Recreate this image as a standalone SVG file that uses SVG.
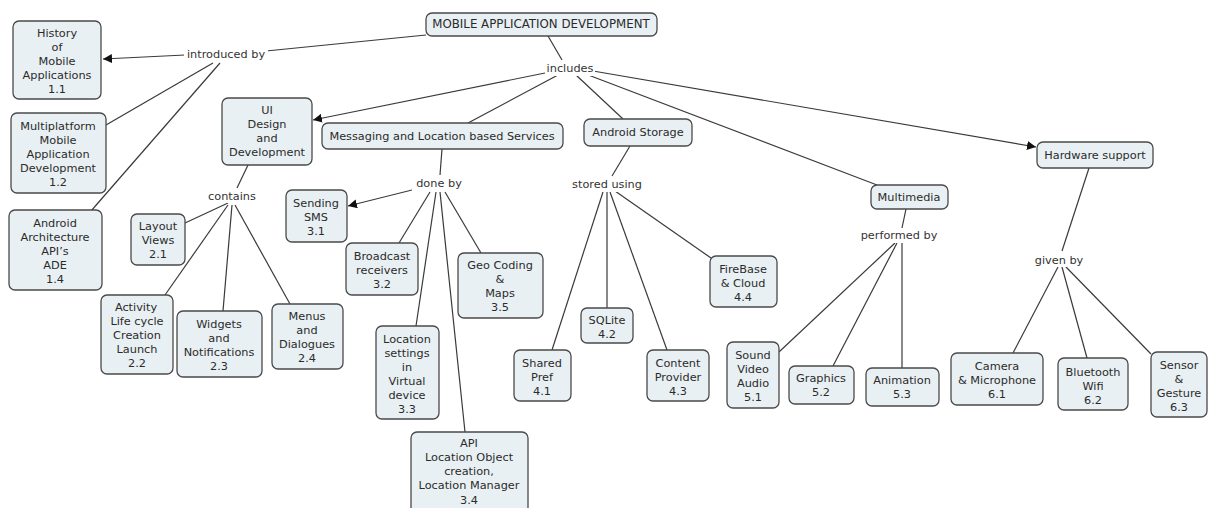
<svg xmlns="http://www.w3.org/2000/svg" width="1208" height="508" viewBox="0 0 1208 508">
<style>
.n rect{fill:#e9f0f3;stroke:#4a4a4a;stroke-width:1.3}
text{font-family:"DejaVu Sans",Verdana,sans-serif;font-size:11.3px;fill:#2b2b2b;text-anchor:middle}
.l text{fill:#333}
.c line{stroke:#3a3a3a;stroke-width:1.2}
</style>
<defs>
<marker id="ah" viewBox="0 0 10 10" refX="10" refY="5" markerWidth="9" markerHeight="9" markerUnits="userSpaceOnUse" orient="auto"><path d="M0,0L10,5L0,10z" fill="#111"/></marker>
</defs>
<rect width="1208" height="508" fill="#fff"/>
<g class="c">
<line x1="426" y1="35" x2="266" y2="51"/>
<line x1="185" y1="55" x2="103" y2="59" marker-end="url(#ah)"/>
<line x1="213" y1="63" x2="106" y2="125"/>
<line x1="220" y1="63" x2="91" y2="211"/>
<line x1="548" y1="36" x2="562" y2="60"/>
<line x1="545" y1="73" x2="313" y2="120" marker-end="url(#ah)"/>
<line x1="558" y1="75" x2="468" y2="123"/>
<line x1="576" y1="75" x2="623" y2="119"/>
<line x1="583" y1="73" x2="877" y2="185"/>
<line x1="593" y1="71" x2="1036" y2="147" marker-end="url(#ah)"/>
<line x1="248" y1="165" x2="237" y2="188"/>
<line x1="228" y1="203" x2="185" y2="223"/>
<line x1="228" y1="205" x2="165" y2="295"/>
<line x1="232" y1="205" x2="223" y2="311"/>
<line x1="235" y1="205" x2="290" y2="304"/>
<line x1="442" y1="149" x2="440" y2="175"/>
<line x1="412" y1="190" x2="348" y2="206" marker-end="url(#ah)"/>
<line x1="430" y1="192" x2="399" y2="243"/>
<line x1="436" y1="192" x2="416" y2="326"/>
<line x1="440" y1="192" x2="465" y2="432"/>
<line x1="445" y1="192" x2="481" y2="253"/>
<line x1="630" y1="146" x2="612" y2="176"/>
<line x1="603" y1="192" x2="552" y2="350"/>
<line x1="607" y1="192" x2="607" y2="308"/>
<line x1="610" y1="192" x2="667" y2="350"/>
<line x1="615" y1="191" x2="711" y2="258"/>
<line x1="906" y1="209" x2="902" y2="228"/>
<line x1="895" y1="243" x2="779" y2="352"/>
<line x1="897" y1="243" x2="833" y2="366"/>
<line x1="902" y1="243" x2="902" y2="368"/>
<line x1="1089" y1="168" x2="1062" y2="251"/>
<line x1="1058" y1="267" x2="1013" y2="353"/>
<line x1="1062" y1="267" x2="1087" y2="358"/>
<line x1="1066" y1="267" x2="1151" y2="354"/>
</g>
<g class="l">
<rect x="184" y="46" width="84" height="16" fill="#fff"/>
<text x="226" y="58">introduced by</text>
<rect x="545" y="61" width="50" height="15" fill="#fff"/>
<text x="570" y="72">includes</text>
<rect x="207" y="189" width="50" height="14" fill="#fff"/>
<text x="232" y="200">contains</text>
<rect x="415" y="176" width="48" height="15" fill="#fff"/>
<text x="439" y="187">done by</text>
<rect x="571" y="177" width="73" height="15" fill="#fff"/>
<text x="607" y="188">stored using</text>
<rect x="860" y="228" width="79" height="15" fill="#fff"/>
<text x="899" y="239">performed by</text>
<rect x="1034" y="253" width="51" height="14" fill="#fff"/>
<text x="1059" y="264">given by</text>
</g>
<g id="root" class="n"><rect x="426" y="13" width="231" height="23" rx="6"/><text x="541" y="28" style="font-size:11.8px">MOBILE APPLICATION DEVELOPMENT</text></g>
<g id="n11" class="n"><rect x="13" y="21" width="88" height="78" rx="6"/><text x="57" y="37">History</text><text x="57" y="51">of</text><text x="57" y="65">Mobile</text><text x="57" y="79">Applications</text><text x="57" y="93">1.1</text></g>
<g id="n12" class="n"><rect x="11" y="113" width="95" height="80" rx="6"/><text x="58" y="130">Multiplatform</text><text x="58" y="144">Mobile</text><text x="58" y="158">Application</text><text x="58" y="172">Development</text><text x="58" y="186">1.2</text></g>
<g id="n14" class="n"><rect x="9" y="210" width="93" height="80" rx="6"/><text x="55" y="227">Android</text><text x="55" y="241">Architecture</text><text x="55" y="255">API’s</text><text x="55" y="269">ADE</text><text x="55" y="283">1.4</text></g>
<g id="ui" class="n"><rect x="222" y="98" width="90" height="67" rx="6"/><text x="267" y="114">UI</text><text x="267" y="128">Design</text><text x="267" y="142">and</text><text x="267" y="156">Development</text></g>
<g id="n21" class="n"><rect x="131" y="214" width="54" height="51" rx="6"/><text x="158" y="230">Layout</text><text x="158" y="244">Views</text><text x="158" y="258">2.1</text></g>
<g id="n22" class="n"><rect x="101" y="295" width="72" height="79" rx="6"/><text x="136" y="311">Activity</text><text x="137" y="325">Life cycle</text><text x="137" y="339">Creation</text><text x="137" y="353">Launch</text><text x="137" y="367">2.2</text></g>
<g id="n23" class="n"><rect x="177" y="311" width="85" height="66" rx="6"/><text x="219" y="328">Widgets</text><text x="219" y="342">and</text><text x="219" y="356">Notifications</text><text x="219" y="370">2.3</text></g>
<g id="n24" class="n"><rect x="272" y="304" width="71" height="65" rx="6"/><text x="307" y="320">Menus</text><text x="307" y="334">and</text><text x="307" y="348">Dialogues</text><text x="307" y="362">2.4</text></g>
<g id="msg" class="n"><rect x="322" y="123" width="241" height="26" rx="6"/><text x="442" y="140">Messaging and Location based Services</text></g>
<g id="n31" class="n"><rect x="286" y="190" width="61" height="52" rx="6"/><text x="316" y="207">Sending</text><text x="316" y="221">SMS</text><text x="316" y="235">3.1</text></g>
<g id="n32" class="n"><rect x="346" y="243" width="72" height="52" rx="6"/><text x="382" y="260">Broadcast</text><text x="382" y="274">receivers</text><text x="382" y="288">3.2</text></g>
<g id="n33" class="n"><rect x="376" y="326" width="63" height="93" rx="6"/><text x="407" y="343">Location</text><text x="407" y="357">settings</text><text x="407" y="371">in</text><text x="407" y="385">Virtual</text><text x="407" y="399">device</text><text x="407" y="413">3.3</text></g>
<g id="n34" class="n"><rect x="411" y="432" width="117" height="82" rx="6"/><text x="469" y="447">API</text><text x="469" y="461">Location Object</text><text x="469" y="475">creation,</text><text x="469" y="489">Location Manager</text><text x="469" y="504">3.4</text></g>
<g id="n35" class="n"><rect x="458" y="253" width="85" height="65" rx="6"/><text x="500" y="269">Geo Coding</text><text x="500" y="283">&amp;</text><text x="500" y="297">Maps</text><text x="500" y="311">3.5</text></g>
<g id="storage" class="n"><rect x="584" y="119" width="108" height="27" rx="6"/><text x="638" y="136">Android Storage</text></g>
<g id="n41" class="n"><rect x="514" y="350" width="57" height="51" rx="6"/><text x="542" y="367">Shared</text><text x="542" y="381">Pref</text><text x="542" y="395">4.1</text></g>
<g id="n42" class="n"><rect x="581" y="308" width="52" height="35" rx="6"/><text x="607" y="324">SQLite</text><text x="607" y="338">4.2</text></g>
<g id="n43" class="n"><rect x="647" y="350" width="62" height="51" rx="6"/><text x="678" y="367">Content</text><text x="678" y="381">Provider</text><text x="678" y="395">4.3</text></g>
<g id="n44" class="n"><rect x="710" y="256" width="67" height="51" rx="6"/><text x="743" y="273">FireBase</text><text x="743" y="287">&amp; Cloud</text><text x="743" y="301">4.4</text></g>
<g id="mm" class="n"><rect x="871" y="185" width="77" height="24" rx="6"/><text x="909" y="201">Multimedia</text></g>
<g id="n51" class="n"><rect x="727" y="342" width="52" height="66" rx="6"/><text x="753" y="359">Sound</text><text x="753" y="373">Video</text><text x="753" y="387">Audio</text><text x="753" y="401">5.1</text></g>
<g id="n52" class="n"><rect x="789" y="366" width="65" height="38" rx="6"/><text x="821" y="382">Graphics</text><text x="821" y="396">5.2</text></g>
<g id="n53" class="n"><rect x="866" y="368" width="73" height="38" rx="6"/><text x="902" y="384">Animation</text><text x="902" y="398">5.3</text></g>
<g id="hw" class="n"><rect x="1037" y="142" width="116" height="26" rx="6"/><text x="1095" y="159">Hardware support</text></g>
<g id="n61" class="n"><rect x="951" y="353" width="92" height="52" rx="6"/><text x="997" y="370">Camera</text><text x="997" y="384">&amp; Microphone</text><text x="997" y="398">6.1</text></g>
<g id="n62" class="n"><rect x="1058" y="358" width="70" height="52" rx="6"/><text x="1093" y="376">Bluetooth</text><text x="1093" y="390">Wifi</text><text x="1093" y="404">6.2</text></g>
<g id="n63" class="n"><rect x="1151" y="352" width="56" height="65" rx="6"/><text x="1179" y="369">Sensor</text><text x="1179" y="383">&amp;</text><text x="1179" y="397">Gesture</text><text x="1179" y="411">6.3</text></g>
</svg>
